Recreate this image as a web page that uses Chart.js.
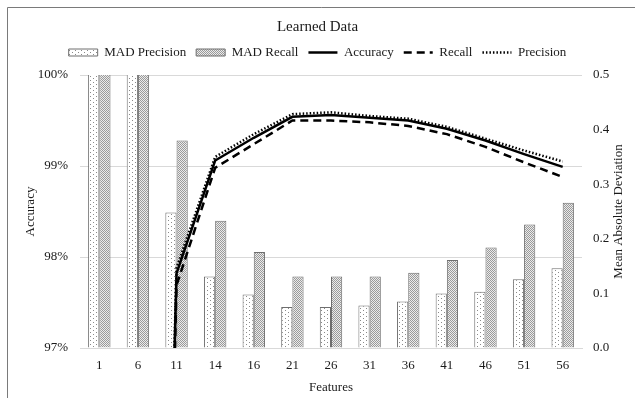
<!DOCTYPE html>
<html>
<head>
<meta charset="utf-8">
<script src="https://cdn.jsdelivr.net/npm/chart.js@4.4.1/dist/chart.umd.min.js"></script>
<style>
  body { margin: 0; background: #fff; }
  canvas { display: block; }
</style>
</head>
<body>
<canvas id="grafico" width="635" height="398"></canvas>
<script>
// dados
var features = ['1', '6', '11', '14', '16', '21', '26', '31', '36', '41', '46', '51', '56'];
var madPrecision = [0.62, 0.60, 0.248, 0.131, 0.098, 0.075, 0.075, 0.078, 0.085, 0.100, 0.103, 0.126, 0.146];
var madRecall = [0.65, 0.63, 0.38, 0.233, 0.176, 0.131, 0.131, 0.131, 0.138, 0.161, 0.184, 0.226, 0.266];
var accuracy = [70, 81.5, 97.82, 99.06, 99.31, 99.54, 99.56, 99.53, 99.50, 99.41, 99.28, 99.13, 98.99];
var recall = [68, 80, 97.69, 98.98, 99.24, 99.50, 99.50, 99.48, 99.44, 99.35, 99.21, 99.04, 98.88];
var precision = [71, 82.5, 97.88, 99.10, 99.35, 99.57, 99.59, 99.55, 99.52, 99.43, 99.30, 99.17, 99.05];
var accuracyTicks = [97, 98, 99, 100];
var madTicks = [0, 0.1, 0.2, 0.3, 0.4, 0.5];

var fonte = 'Liberation Serif, Times New Roman, serif';
var corTexto = '#1a1a1a';

function padrao(bg, dot, w, h, pts) {
	var c = document.createElement('canvas');
	c.width = w; c.height = h;
	var g = c.getContext('2d');
	g.fillStyle = bg;
	g.fillRect(0, 0, w, h);
	g.fillStyle = dot;
	for (var i = 0; i < pts.length; i++) {
		g.fillRect(pts[i][0], pts[i][1], 1, 1);
	}
	return g.createPattern(c, 'repeat');
}
var ctx = document.getElementById('grafico').getContext('2d');
var padraoPrecision = padrao('#ffffff', '#8a8a8a', 6, 4, [[0, 0], [3, 2]]);
var padraoRecall = padrao('#ebebeb', '#9a9a9a', 2, 2, [[0, 0], [1, 1]]);

// moldura cortada (so topo e esquerda aparecem) + titulo do eixo direito
var extras = {
	id: 'extras',
	afterDraw: function (chart) {
		var c = chart.ctx;
		var area = chart.chartArea;
		c.save();
		c.strokeStyle = '#7a7a7a';
		c.lineWidth = 1;
		c.beginPath();
		c.moveTo(7.5, 398);
		c.lineTo(7.5, 7.5);
		c.lineTo(635, 7.5);
		c.stroke();
		c.translate(619, (area.top + area.bottom) / 2);
		c.rotate(-Math.PI / 2);
		c.fillStyle = corTexto;
		c.font = '13px ' + fonte;
		c.textAlign = 'center';
		c.textBaseline = 'middle';
		c.fillText('Mean Absolute Deviation', 0, 0);
		c.restore();
	}
};

var grafico = new Chart(ctx, {
	type: 'bar',
	data: {
		labels: features,
		datasets: [
			{
				label: 'MAD Precision',
				data: madPrecision,
				yAxisID: 'y1',
				backgroundColor: padraoPrecision,
				borderColor: '#6e6e6e',
				borderWidth: 1,
				categoryPercentage: 0.58,
				barPercentage: 1.0,
				order: 2
			},
			{
				label: 'MAD Recall',
				data: madRecall,
				yAxisID: 'y1',
				backgroundColor: padraoRecall,
				borderColor: '#6e6e6e',
				borderWidth: 1,
				categoryPercentage: 0.58,
				barPercentage: 1.0,
				order: 2
			},
			{
				type: 'line',
				label: 'Accuracy',
				data: accuracy,
				yAxisID: 'y',
				borderColor: '#000',
				backgroundColor: '#000',
				borderWidth: 2.5,
				pointRadius: 0,
				tension: 0,
				order: 1
			},
			{
				type: 'line',
				label: 'Recall',
				data: recall,
				yAxisID: 'y',
				borderColor: '#000',
				backgroundColor: '#000',
				borderWidth: 2.5,
				borderDash: [8, 5],
				pointRadius: 0,
				tension: 0,
				order: 1
			},
			{
				type: 'line',
				label: 'Precision',
				data: precision,
				yAxisID: 'y',
				borderColor: '#000',
				backgroundColor: '#000',
				borderWidth: 2.5,
				borderDash: [1.5, 2],
				pointRadius: 0,
				tension: 0,
				order: 1
			}
		]
	},
	options: {
		responsive: false,
		animation: false,
		layout: { padding: { top: 12, left: 0, right: 0, bottom: 0 } },
		plugins: {
			tooltip: { enabled: false },
			title: {
				display: true,
				text: 'Learned Data',
				color: corTexto,
				font: { family: fonte, size: 15, weight: 'normal' },
				padding: { top: 6, bottom: 0 }
			},
			legend: {
				display: true,
				labels: {
					color: corTexto,
					font: { family: fonte, size: 13 },
					usePointStyle: true,
					pointStyleWidth: 29,
					boxHeight: 7,
					padding: 10,
					generateLabels: function (chart) {
						return chart.data.datasets.map(function (ds, i) {
							var linha = ds.type === 'line';
							return {
								text: ds.label,
								fillStyle: ds.backgroundColor,
								strokeStyle: ds.borderColor,
								lineWidth: linha ? ds.borderWidth : 1,
								lineDash: ds.borderDash || [],
								pointStyle: linha ? 'line' : 'rect',
								fontColor: corTexto,
								hidden: false,
								datasetIndex: i
							};
						});
					}
				}
			}
		},
		scales: {
			x: {
				grid: { display: false, drawTicks: false },
				border: { color: '#d9d9d9' },
				ticks: { color: corTexto, font: { family: fonte, size: 13 }, padding: 10 },
				title: {
					display: true, text: 'Features', color: corTexto,
					font: { family: fonte, size: 13 }, padding: { top: 2, bottom: 3 }
				},
				afterFit: function (s) { s.height = 50; }
			},
			y: {
				position: 'left',
				min: 97,
				max: 100,
				afterBuildTicks: function (s) { s.ticks = accuracyTicks.map(function (v) { return { value: v }; }); },
				grid: { color: '#d9d9d9', drawTicks: false },
				border: { display: false },
				ticks: {
					color: corTexto, font: { family: fonte, size: 13 }, padding: 12,
					callback: function (v) { return v + '%'; }
				},
				title: {
					display: true, text: 'Accuracy', color: corTexto,
					font: { family: fonte, size: 13 }, padding: { top: 23, bottom: 0 }
				},
				afterFit: function (s) { s.width = 80; }
			},
			y1: {
				position: 'right',
				min: 0,
				max: 0.5,
				afterBuildTicks: function (s) { s.ticks = madTicks.map(function (v) { return { value: v }; }); },
				grid: { drawOnChartArea: false, drawTicks: false },
				border: { display: false },
				ticks: {
					color: corTexto, font: { family: fonte, size: 13 }, padding: 11,
					callback: function (v) { return v.toFixed(1); }
				},
				afterFit: function (s) { s.width = 53; }
			}
		}
	},
	plugins: [extras]
});

// espaco extra abaixo da legenda
var fitLegenda = grafico.legend.fit;
grafico.legend.fit = function () {
	fitLegenda.call(this);
	this.height += 6;
};
grafico.update();
</script>
</body>
</html>
